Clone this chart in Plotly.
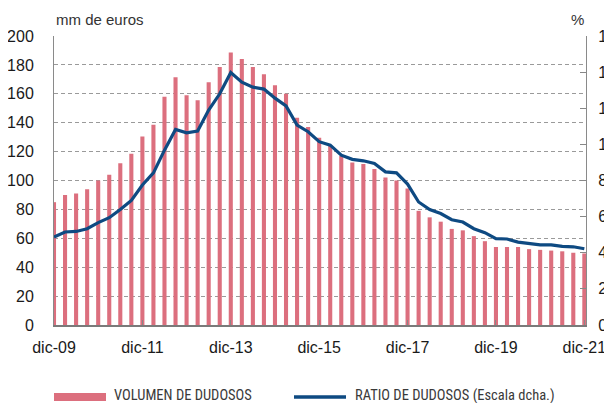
import plotly.graph_objects as go

years = ["09", "10", "11", "12", "13", "14", "15", "16", "17", "18", "19", "20", "21"]
months = ["mar", "jun", "sep", "dic"]
categories = ["dic-09"] + [f"{m}-{y}" for y in years[1:] for m in months]

volumen = [85, 90, 91, 94, 100, 104, 112, 118.5, 130.5, 138.5, 158, 171.5, 159, 155.5,
           168, 178.5, 188.5, 184, 178.5, 173.5, 166, 160, 143.5, 137, 129.5, 124, 117,
           112.5, 111.5, 108, 102, 100, 94.5, 79, 74.5, 71.5, 66.5, 65.5, 61.5, 58, 54,
           54, 54, 52.5, 52, 51.5, 51, 50, 49.5]
ratio = [4.87, 5.15, 5.18, 5.33, 5.67, 5.94, 6.39, 6.9, 7.75, 8.42, 9.68, 10.83, 10.64,
         10.74, 11.9, 12.8, 13.98, 13.44, 13.17, 13.06, 12.56, 12.13, 11.07, 10.7, 10.15,
         9.96, 9.4, 9.17, 9.09, 8.94, 8.48, 8.42, 7.8, 6.81, 6.39, 6.17, 5.83, 5.7, 5.33,
         5.11, 4.78, 4.76, 4.59, 4.5, 4.44, 4.44, 4.35, 4.33, 4.22]
tick_labels = ["dic-09", "dic-11", "dic-13", "dic-15", "dic-17", "dic-19", "dic-21"]

BAR = "#DC6F7E"
LINE = "#0E4A82"
FONT = "Liberation Sans, Arial, sans-serif"
NARROW = "Liberation Sans Narrow, Arial Narrow, Roboto Condensed, DejaVu Sans Condensed, sans-serif"

# the page body adds an 8px offset; figure sized to the visible area
OFF = 8
W, H = 612 - OFF, 403 - OFF

fig = go.Figure()
fig.add_trace(go.Bar(x=categories, y=volumen, marker=dict(color=BAR, line=dict(width=0)),
                     width=0.37, name="VOLUMEN DE DUDOSOS", showlegend=False))
fig.add_trace(go.Scatter(x=categories, y=ratio, yaxis="y2", mode="lines",
                         line=dict(color=LINE, width=3.2), name="RATIO DE DUDOSOS (Escala dcha.)",
                         showlegend=False, cliponaxis=False))

fig.update_layout(
    width=W, height=H,
    margin=dict(l=54 - OFF, r=612 - 586, t=36 - OFF, b=403 - 325, autoexpand=False),
    paper_bgcolor="white", plot_bgcolor="white",
    font=dict(family=FONT, size=16, color="#1a1a1a"),
    xaxis=dict(type="category", range=[0, 48.15], tickmode="array",
               tickvals=tick_labels, ticktext=tick_labels,
               ticks="inside", ticklen=5, tickcolor="#888", tickwidth=1,
               showline=True, linecolor="#7a7a7a", linewidth=2, automargin=False,
               showgrid=False, ticklabelstandoff=7, tickfont=dict(size=16)),
    yaxis=dict(range=[0, 200], dtick=20, showgrid=True, gridcolor="#9a9a9a",
               griddash="4px,3px", gridwidth=1, showline=True, linecolor="#8a8a8a",
               linewidth=1, ticks="", zeroline=False, ticklabelstandoff=16,
               automargin=False, tickfont=dict(size=16)),
    yaxis2=dict(range=[0, 16], dtick=2, overlaying="y", side="right", showgrid=False,
                showline=True, linecolor="#8a8a8a", linewidth=1, ticks="inside",
                ticklen=6, tickcolor="#888", zeroline=False, ticklabelstandoff=8,
                automargin=False, tickfont=dict(size=16)),
    bargap=0.6,
)

fig.add_annotation(text="mm de euros", xref="paper", yref="paper", x=0, y=1,
                   xanchor="left", yanchor="bottom", yshift=6, showarrow=False,
                   font=dict(size=15, color="#333", family=FONT))
fig.add_annotation(text="%", xref="paper", yref="paper", x=1, y=1,
                   xanchor="right", yanchor="bottom", yshift=6, showarrow=False,
                   font=dict(size=15, color="#333", family=FONT))

# custom legend (positions given in screen pixels, converted to paper units)
pw, ph = 532.0, 289.0
def px(x):
    return (x - 54) / pw
def py(y):
    return (325 - y) / ph

fig.add_shape(type="rect", xref="paper", yref="paper", x0=px(54), x1=px(106),
              y0=py(401), y1=py(393), fillcolor=BAR, line=dict(width=0))
fig.add_shape(type="line", xref="paper", yref="paper", x0=px(294), x1=px(346),
              y0=py(397), y1=py(397), line=dict(color=LINE, width=3.5))
fig.add_annotation(text="VOLUMEN DE DUDOSOS", xref="paper", yref="paper",
                   x=px(112), y=py(395), xanchor="left", yanchor="middle",
                   showarrow=False, font=dict(size=14.5, color="#3a3a3a", family=NARROW))
fig.add_annotation(text="RATIO DE DUDOSOS (Escala dcha.)", xref="paper", yref="paper",
                   x=px(353), y=py(395), xanchor="left", yanchor="middle",
                   showarrow=False, font=dict(size=14.5, color="#3a3a3a", family=NARROW))

fig.write_html("out.html")
